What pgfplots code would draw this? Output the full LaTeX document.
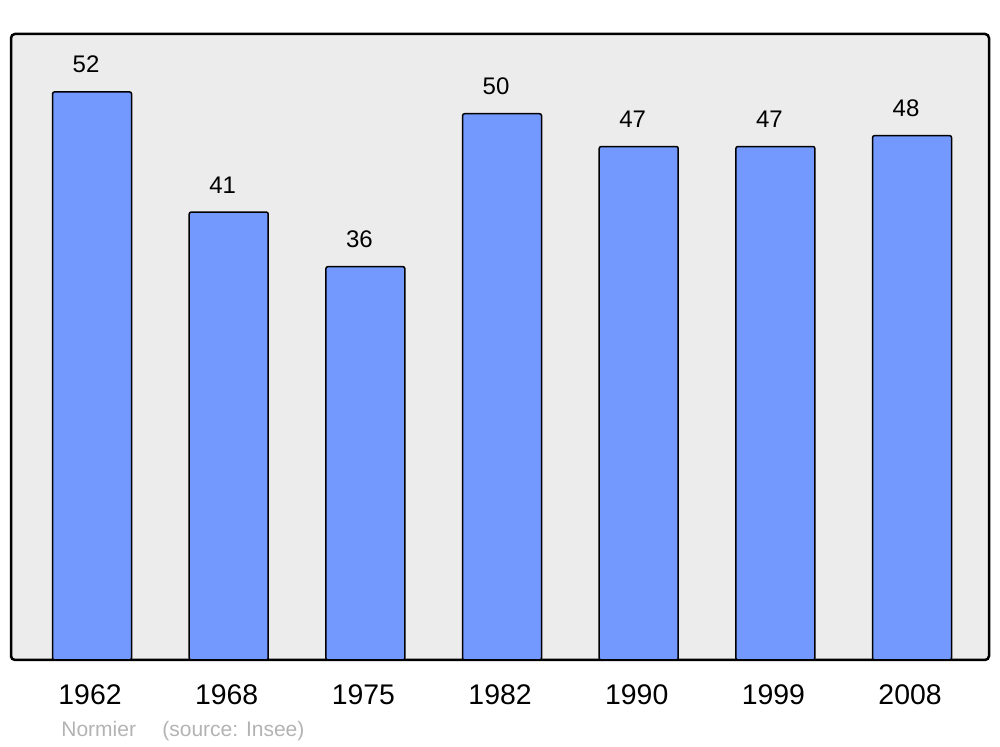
\documentclass[border=0pt]{standalone}
\usepackage{pgfplots}
\pgfplotsset{compat=1.18}
\usepackage{fontspec}
\setmainfont{Liberation Sans}
\definecolor{barblue}{RGB}{115,153,255}
\definecolor{bggray}{RGB}{236,236,236}
\definecolor{footgray}{RGB}{179,179,179}
\begin{document}
\begin{tikzpicture}
\useasboundingbox (0,0) rectangle (500pt,373.5pt);
\begin{axis}[
  at={(5.5pt,43.5pt)}, anchor=south west,
  scale only axis, width=489pt, height=313pt,
  xmin=-0.593, xmax=6.563, ymin=0, ymax=57.3,
  axis background/.style={fill=bggray, rounded corners=2pt},
  axis line style={line width=1.25pt, rounded corners=2pt},
  ytick=\empty,
  xtick={0,1,2,3,4,5,6},
  xticklabels={1962,1968,1975,1982,1990,1999,2008},
  major tick length=0pt,
  xticklabel style={anchor=base, yshift=-22.5pt, xshift=-1pt, font=\fontsize{14.2pt}{16pt}\selectfont, inner sep=0pt},
  /pgf/number format/assume math mode=true,
  ybar, bar width=0.578,
  nodes near coords,
  nodes near coords style={anchor=base, yshift=9.5pt, xshift=-3pt, inner sep=0pt, font=\fontsize{12pt}{14pt}\selectfont, text=black},
]
\addplot[fill=barblue, draw=black, line width=0.75pt, rounded corners=1pt] coordinates {
(0,52) (1,41) (2,36) (3,50) (4,47) (5,47) (6,48)};
\end{axis}
\node[anchor=base west, inner sep=0pt, text=footgray, font=\fontsize{10.5pt}{12pt}\selectfont] at (30.5pt,5pt) {Normier};
\node[anchor=base west, inner sep=0pt, text=footgray, font=\fontsize{10.5pt}{12pt}\selectfont] at (81pt,5pt) {(source: Insee)};
\end{tikzpicture}
\end{document}
